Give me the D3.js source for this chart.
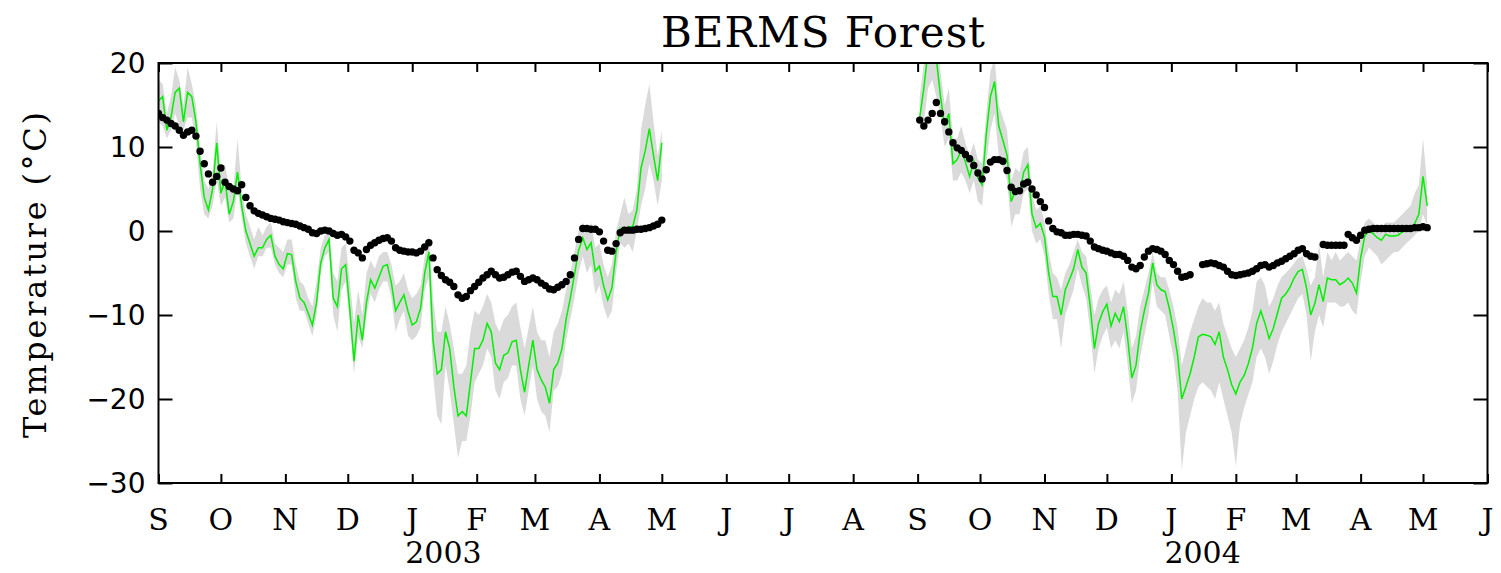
<!DOCTYPE html>
<html>
<head>
<meta charset="utf-8">
<script src="https://cdn.jsdelivr.net/npm/d3@7"></script>
<style>
  body { margin: 0; background: #fff; }
  svg { display: block; }
</style>
</head>
<body>
<svg id="chart" width="1501" height="573"></svg>
<script>
// ---- data -----------------------------------------------------------------
// Daily air temperature (mean, max, min) and soil temperature, °C,
// sampled every second day for the two measurement seasons.
const title = "BERMS Forest";
const yLabel = "Temperature (°C)";
const monthInitials = ["J","F","M","A","M","J","J","A","S","O","N","D"];
const yearLabels = ["2003", "2004"];
const yTickValues = [20, 10, 0, -10, -20, -30];
const axisStart = "2002-09-01";
const axisEnd = "2004-06-01";
const season1Start = "2002-09-01";
const season2Start = "2003-09-02";
const stepDays = 2;

const airMean1 = [15.5,16,12,13.5,16.5,17,13,16.5,16,13,
 8,4,2.5,5,10.5,4.5,6,2,3.5,7,
 3,0,-1.5,-3,-2,-2,-1,-0.5,-3,-4,
 -4.5,-2.7,-2.8,-6,-8,-8.5,-9.8,-11.2,-8.5,-3.8,
 -2,-1,-8,-9,-4.5,-4,-9.4,-15.5,-10,-13,
 -8.5,-5.8,-6.8,-5.5,-4.2,-4,-6.2,-9.5,-8.5,-7.6,
 -9.6,-11.2,-10.8,-9.2,-5,-2.5,-13,-17,-16.5,-12,
 -14,-18.5,-22,-21.5,-22,-18,-14,-14,-13,-11,
 -12,-15.7,-16.5,-14.8,-14.5,-13.2,-13,-16.5,-19.2,-16,
 -13,-16.5,-17.7,-18.6,-20.5,-16.5,-15.7,-14,-10.5,-8,
 -5.2,-2.3,-0.8,-2.2,-1.4,-4.8,-4.2,-6.5,-8.2,-6.8,
 -2.5,0.3,0,0.5,0.5,2.5,7.5,9.5,12.2,9,
 6,10.5];
const airMax1 = [18,17.5,14,16,19.5,18,15,19.5,17.5,15,
 10,6,5,7,13,7,8,5,5,11,
 5,2,0.5,-1,0.5,-0.5,0.5,1,-1.5,-2,
 -2.5,-1,-1,-4,-6,-6.5,-8,-9,-6,-2,
 -0.5,0,-5,-6,-2,-1.5,-6,-11,-7,-10,
 -5,-3.5,-4.5,-3,-2.5,-2.5,-4,-6.5,-6,-5,
 -7,-8,-7.5,-6.5,-3,-0.5,-8,-12,-12,-9,
 -11,-14,-17,-17,-16,-12,-9.5,-10,-9,-7.5,
 -8.5,-11,-12,-10.5,-10,-9,-8.5,-11.5,-14,-11.5,
 -9,-12,-13,-13,-15,-12,-11,-9.5,-7,-5,
 -2.5,0,1,0,1,-2,-1.5,-4,-5.5,-4,
 0,2,4,2,2.5,5,12,15,17.5,13,
 9,12];
const airMin1 = [13,12.5,11,12,14,12.5,12,13.5,13.5,10.5,
 5,2,1.5,3,6,3,4,1,1.5,5,
 1.5,-1.5,-3,-4.5,-3,-3,-2,-2,-4,-5,
 -5.5,-4,-4,-8,-9.5,-9.5,-11,-12.5,-10,-5,
 -3,-2.5,-10,-12,-7,-6,-11,-17,-12.5,-14,
 -10,-7.5,-8.5,-7,-6,-6,-8,-12,-10.5,-9.5,
 -12.5,-13,-12.5,-11.5,-7,-5.5,-17,-22,-23,-16,
 -19,-23,-27,-25,-25,-22,-18,-17,-16,-14,
 -15,-19,-20,-18,-17.5,-16,-16,-20,-22,-19,
 -16,-20,-21.5,-22,-24,-19,-18.5,-17,-13,-10.5,
 -8,-5,-3,-5,-4,-7.5,-6.5,-9,-10.5,-9.5,
 -5,-1.5,-2,-1.5,-2.5,0,3,5,8,6,
 3,6];
const soil1 = [14,13.5,13.2,12.8,12.5,12,11.4,11.8,12,11.3,
 9.5,8,6.8,5.8,6.5,7.5,5.8,5.3,5,4.8,
 5.5,4,3,2.4,2.1,1.9,1.7,1.5,1.4,1.3,
 1.1,1,0.9,0.8,0.6,0.4,0.2,-0.2,-0.3,0,
 0.1,0,-0.3,-0.5,-0.4,-0.7,-1.2,-2.3,-2.6,-3.2,
 -2.2,-1.7,-1.4,-1.1,-0.9,-0.8,-1.2,-2,-2.3,-2.4,
 -2.5,-2.5,-2.6,-2.4,-1.9,-1.4,-3.2,-4.6,-5.3,-5.8,
 -6.1,-6.6,-7.6,-8,-7.8,-7.1,-6.6,-6.1,-5.6,-5.2,
 -4.8,-5.2,-5.6,-5.5,-5.2,-4.9,-4.8,-5.4,-6,-5.8,
 -5.6,-5.8,-6.2,-6.5,-6.9,-7,-6.7,-6.4,-6,-5.2,
 -3.2,-1,0.3,0.3,0.2,0.2,-0.1,-1.2,-2.3,-2.4,
 -1.5,-0.2,0.1,0.1,0.1,0.2,0.2,0.3,0.4,0.6,
 0.8,1.3];

const airMean2 = [13.5,17,21.5,22,20.5,16,12.5,14,8,8.5,
 9.6,8.2,6.5,8.3,6.3,5.5,11.5,16,17.8,12.5,
 10.8,9,3.5,4.8,4.5,7,7.9,2,0.4,0.9,
 -0.7,-5,-7.8,-7.8,-10,-7,-5.8,-4.5,-2.2,-4.3,
 -5,-9,-14,-11,-9.6,-8.7,-11.3,-9.8,-10.8,-9,
 -12.8,-17.5,-16,-12,-9.5,-7.4,-3.8,-6.4,-7,-7.2,
 -9.2,-11.7,-14.8,-20,-18.5,-17,-15,-12.6,-12.3,-12.4,
 -12.6,-13.5,-12,-15,-16.5,-18.3,-19.4,-18,-17.2,-15.8,
 -13.9,-11,-9.5,-11,-12.8,-11.6,-9.8,-8,-7.5,-6.7,
 -5.6,-4.8,-4.6,-6.8,-10,-8.6,-6.4,-8.4,-5.6,-5.8,
 -5.8,-6.4,-6.1,-5.6,-6.2,-7.4,-3.2,-0.6,0,-0.3,
 -0.8,-1.1,-0.4,-0.6,-0.6,-0.5,-0.1,0,0.2,0.9,
 2,6.5,3];
const airMax2 = [16,20,24,25,24,19,15,17,11,11,
 12.5,10.5,9,10.5,8.5,8,14,19,20.5,15,
 13.5,12,6,7.5,7,9.5,10,4.5,2.5,3,
 1,-2.5,-5,-5.5,-7,-5,-4,-2.5,-1,-2.5,
 -3,-6.5,-10,-8,-7,-6.5,-8.5,-7,-7.5,-6,
 -9.5,-14,-12.5,-9,-7,-5,-2.5,-5,-5.5,-5.5,
 -7,-9,-11.5,-16,-14,-12,-10.5,-9,-8,-8.5,
 -8.5,-9.5,-8.5,-11,-12.5,-14,-15,-14,-13,-11.5,
 -9.5,-6,-5.5,-6.5,-9,-8,-6.5,-5.5,-5,-4.5,
 -3.8,-3.2,-3,-4.5,-6.5,-5.5,-1.5,-5.5,-2.5,-3.5,
 -2.5,-3.5,-3,-2.5,-3,-3.5,-1,1,1.5,1,
 0.5,0.5,1,1,1,1.5,2,2.5,3,4.5,
 5.5,11,5.5];
const airMin2 = [12,13,17,18,16,13.5,10,11,6,6,
 7,6,4.5,6,3.5,3,8,12,14,9,
 7.5,6,0.5,2,2,4.5,5,0,-1.5,-1,
 -3,-7.5,-10.5,-10.5,-14,-10,-8.5,-7,-4.5,-6.5,
 -8,-12,-17,-14,-12.5,-11.5,-14,-13,-14,-12,
 -16,-20.5,-19,-15,-12.5,-10,-6,-9,-9.5,-10,
 -12.5,-15,-19,-28.5,-24,-22,-20,-18.5,-18,-18.5,
 -19,-20,-18,-20,-22,-24,-28,-23,-21,-19.5,
 -18,-15,-14,-15,-17,-15.5,-13.5,-12,-11,-10,
 -9,-8,-7.5,-10,-15.5,-12,-10,-11.5,-8.5,-8.5,
 -8.5,-9,-9,-8.5,-9.5,-10,-6,-3,-2,-2.5,
 -3,-4,-3.5,-3,-2.5,-2.5,-2,-1.5,-1,-0.5,
 0,2,0.5];
const soil2 = [13.2,12.5,13.2,14,15.3,14,13,11.8,10.5,9.9,
 9.6,9.1,8.6,7.8,6.9,6.2,7.3,8.2,8.5,8.5,
 8.3,7.2,5.2,4.7,4.8,5.6,5.8,5,4.3,3.5,
 2.8,1.2,0.3,-0.1,-0.2,-0.5,-0.5,-0.4,-0.4,-0.5,
 -0.6,-1.2,-1.9,-2.1,-2.3,-2.4,-2.6,-2.8,-2.8,-3,
 -3.5,-4.3,-4.5,-4.1,-3.1,-2.4,-2.1,-2.2,-2.4,-2.8,
 -3.5,-4,-4.8,-5.5,-5.4,-5.2,null,null,-4,-3.9,
 -3.8,-3.9,-4.1,-4.3,-4.8,-5.2,-5.3,-5.2,-5.1,-5,
 -4.8,-4.5,-4.1,-4,-4.3,-4.1,-3.8,-3.6,-3.3,-3,
 -2.7,-2.3,-2.1,-2.7,-3,-3.1,null,-1.6,-1.7,-1.7,
 -1.7,-1.7,-1.7,-0.4,-0.8,-1.1,-0.5,0.1,0.2,0.3,
 0.3,0.3,0.3,0.3,0.3,0.3,0.3,0.3,0.3,0.4,
 0.4,0.5,0.4];

// ---- assemble records -----------------------------------------------------
const parseDay = d3.utcParse("%Y-%m-%d");
function season(start, mean, max, min, soil) {
  const t0 = parseDay(start);
  return mean.map((m, i) => ({
    date: d3.utcDay.offset(t0, i * stepDays),
    mean: m, max: max[i], min: min[i], soil: soil[i]
  }));
}
const seasons = [
  season(season1Start, airMean1, airMax1, airMin1, soil1),
  season(season2Start, airMean2, airMax2, airMin2, soil2)
];

// ---- layout ---------------------------------------------------------------
const plot = { left: 158.5, right: 1487.5, top: 63, bottom: 483 };
const svg = d3.select("#chart");

const x = d3.scaleUtc()
  .domain([parseDay(axisStart), parseDay(axisEnd)])
  .range([plot.left, plot.right]);
const y = d3.scaleLinear().domain([-30, 20]).range([plot.bottom, plot.top]);

svg.append("defs").append("clipPath").attr("id", "plot-clip")
  .append("rect")
  .attr("x", plot.left).attr("y", plot.top)
  .attr("width", plot.right - plot.left).attr("height", plot.bottom - plot.top);

const data = svg.append("g").attr("clip-path", "url(#plot-clip)");

// daily range band
const band = d3.area()
  .x(d => x(d.date)).y0(d => y(d.min)).y1(d => y(d.max));
data.selectAll("path.band").data(seasons).join("path")
  .attr("class", "band")
  .attr("d", band)
  .attr("fill", "#dadada");

// daily mean air temperature
const meanLine = d3.line().x(d => x(d.date)).y(d => y(d.mean));
data.selectAll("path.mean").data(seasons).join("path")
  .attr("class", "mean")
  .attr("d", meanLine)
  .attr("fill", "none")
  .attr("stroke", "#00f000")
  .attr("stroke-width", 1.5)
  .attr("stroke-linejoin", "miter");

// soil temperature points
data.selectAll("circle.soil")
  .data(seasons.flat().filter(d => d.soil !== null))
  .join("circle")
  .attr("class", "soil")
  .attr("cx", d => x(d.date)).attr("cy", d => y(d.soil))
  .attr("r", 3.7)
  .attr("fill", "#000");

// ---- axes -----------------------------------------------------------------
const months = d3.utcMonth.range(parseDay(axisStart), d3.utcDay.offset(parseDay(axisEnd), 1));

const axes = svg.append("g");
axes.append("g")
  .attr("transform", `translate(0,${plot.bottom})`)
  .call(d3.axisBottom(x).tickValues(months).tickSize(-9).tickSizeOuter(0).tickFormat(""));
axes.append("g")
  .attr("transform", `translate(0,${plot.top})`)
  .call(d3.axisTop(x).tickValues(months).tickSize(-9).tickSizeOuter(0).tickFormat(""));
axes.append("g")
  .attr("transform", `translate(${plot.left},0)`)
  .call(d3.axisLeft(y).tickValues(yTickValues).tickSize(-14).tickSizeOuter(0).tickFormat(""));
axes.append("g")
  .attr("transform", `translate(${plot.right},0)`)
  .call(d3.axisRight(y).tickValues(yTickValues).tickSize(-14).tickSizeOuter(0).tickFormat(""));
axes.selectAll(".domain").remove();
axes.selectAll(".tick line").attr("stroke", "#000").attr("stroke-width", 2);

svg.append("rect")
  .attr("x", plot.left).attr("y", plot.top)
  .attr("width", plot.right - plot.left).attr("height", plot.bottom - plot.top)
  .attr("fill", "none").attr("stroke", "#000").attr("stroke-width", 2);

// y tick labels
const fmt = d3.format("d");
svg.append("g").selectAll("text").data(yTickValues).join("text")
  .attr("x", plot.left - 13).attr("y", d => y(d))
  .attr("dy", "0.36em")
  .attr("text-anchor", "end")
  .attr("font-family", "DejaVu Sans, sans-serif")
  .attr("font-size", 28)
  .text(d => fmt(d));

// month initials under each month start
svg.append("g").selectAll("text").data(months).join("text")
  .attr("x", d => x(d)).attr("y", 530)
  .attr("text-anchor", "middle")
  .attr("font-family", "DejaVu Serif, serif")
  .attr("font-size", 30)
  .text(d => monthInitials[d.getUTCMonth()]);

// year labels in mid January
svg.append("g").selectAll("text").data(yearLabels).join("text")
  .attr("x", d => x(d3.utcDay.offset(parseDay(d + "-01-01"), 15)))
  .attr("y", 563)
  .attr("text-anchor", "middle")
  .attr("font-family", "DejaVu Serif, serif")
  .attr("font-size", 30)
  .text(d => d);

// y-axis title
svg.append("text")
  .attr("transform", "translate(46,275) rotate(-90)")
  .attr("text-anchor", "middle")
  .attr("font-family", "DejaVu Serif, serif")
  .attr("font-size", 32)
  .attr("textLength", 326)
  .attr("lengthAdjust", "spacing")
  .text(yLabel);

// chart title
svg.append("text")
  .attr("x", (plot.left + plot.right) / 2).attr("y", 47)
  .attr("text-anchor", "middle")
  .attr("font-family", "DejaVu Serif, serif")
  .attr("font-size", 42)
  .attr("textLength", 324)
  .attr("lengthAdjust", "spacing")
  .text(title);
</script>
</body>
</html>
